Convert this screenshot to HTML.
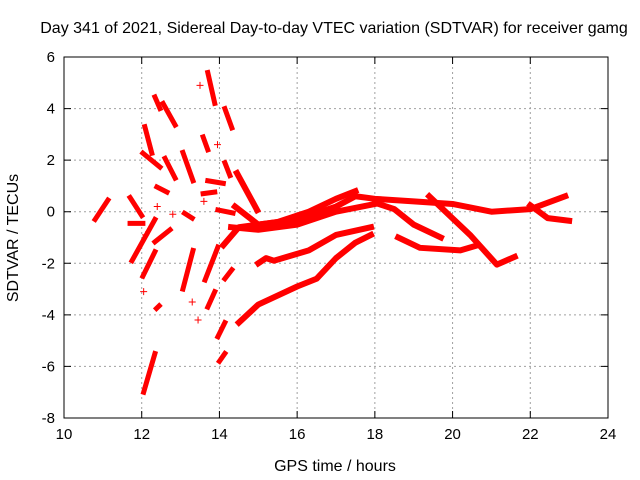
<!DOCTYPE html>
<html><head><meta charset="utf-8"><style>
body{margin:0;background:#fff}
svg{display:block;font-family:"Liberation Sans",sans-serif}
</style></head><body>
<svg id="chart" width="640" height="480" viewBox="0 0 640 480">
<text x="334" y="33" font-size="16" text-anchor="middle">Day 341 of 2021, Sidereal Day-to-day VTEC variation (SDTVAR) for receiver gamg</text>
<text x="335" y="471" font-size="16" text-anchor="middle">GPS time / hours</text>
<text transform="translate(18,238) rotate(-90)" font-size="16" text-anchor="middle">SDTVAR / TECUs</text>
<g id="grid"></g><g id="marks"></g><g id="axes"></g>
</svg>
<script>
const xTicks=[10,12,14,16,18,20,22,24];
const yTicks=[-8,-6,-4,-2,0,2,4,6];
const longTracks=[
[[14.4,0.2],[15,-0.5],[16,-0.3],[17,0.2],[17.5,0.6],[18,0.5],[19,0.4],[20,0.3],[21,0],[22,0.1],[22.9,0.6]],
[[14.3,-0.6],[15,-0.7],[16,-0.5],[17,0],[18,0.3]],
[[14.1,-1.3],[14.5,-0.6],[15.5,-0.4],[16.3,0],[17,0.5],[17.5,0.8]],
[[15.0,-2.0],[15.2,-1.8],[15.4,-1.9],[16.3,-1.5],[17,-0.9],[17.9,-0.6]],
[[14.5,-4.3],[15,-3.6],[16,-2.9],[16.5,-2.6],[17,-1.8],[17.5,-1.2],[17.9,-0.9]],
[[18.1,0.3],[18.5,0.1],[19,-0.5],[19.7,-1.0]],
[[18.6,-1.0],[19.16,-1.4],[20.2,-1.5],[20.65,-1.3]],
[[19.4,0.6],[20.45,-0.9],[21.14,-2.05],[21.6,-1.75]],
[[22,0.25],[22.45,-0.25],[23,-0.35]],
[[14.45,1.5],[14.97,0.06]]
];
const shortTracks=[
[[10.8,-0.3],[11.13,0.45]],[[11.7,0.55],[12.0,-0.15]],[[11.7,-0.45],[12.03,-0.45]],
[[11.75,-1.9],[12.34,-0.3]],[[12.03,-2.5],[12.34,-1.55]],[[12.08,3.3],[12.26,2.27]],
[[12.03,2.27],[12.47,1.73]],[[12.34,4.45],[12.47,4.0]],[[12.55,4.2],[12.86,3.36]],
[[12.6,2.07],[12.86,1.3]],[[12.39,0.96],[12.65,0.76]],[[12.34,-1.17],[12.73,-0.7]],
[[12.05,-7.0],[12.34,-5.5]],[[12.38,-3.75],[12.45,-3.65]],[[13.06,2.3],[13.32,1.2]],
[[13.1,-0.06],[13.3,-0.25]],[[13.06,-3.0],[13.32,-1.5]],[[13.58,2.9],[13.7,2.4]],
[[13.7,5.4],[13.88,4.2]],[[14.14,4.0],[14.32,3.25]],[[13.63,-2.65],[13.96,-1.37]],
[[13.7,-3.7],[13.88,-3.1]],[[13.58,0.7],[13.88,0.76]],[[13.7,1.2],[14.1,1.1]],
[[13.96,0.07],[14.35,-0.05]],[[13.96,-4.85],[14.14,-4.3]],[[14.0,-5.8],[14.14,-5.5]],
[[14.14,-2.6],[14.32,-2.25]],[[14.14,1.9],[14.27,1.4]]
];
const singles=[[12.05,-3.1],[13.5,4.9],[13.95,2.6],[12.8,-0.1],[13.45,-4.2],[13.3,-3.5],[12.1,-0.9],[13.6,0.4],[12.4,0.2]];
const L=64,R=608,T=57,B=418;
const xs=h=>L+(h-10)/14*(R-L);
const ys=v=>T+(6-v)/14*(B-T);
const NS="http://www.w3.org/2000/svg";
const grid=document.getElementById('grid'),marks=document.getElementById('marks'),axes=document.getElementById('axes');
function mk(tag,attrs,parent){const e=document.createElementNS(NS,tag);for(const k in attrs)e.setAttribute(k,attrs[k]);parent.appendChild(e);return e;}
xTicks.forEach(t=>{
 if(t>10&&t<24){const g=mk('line',{x1:xs(t),x2:xs(t),y1:T,y2:B,stroke:'#a0a0a0','stroke-dasharray':'2,3'},grid);
 
 }
 const a=mk('path',{d:`M${xs(t)},${B}v-7M${xs(t)},${T}v7`,stroke:'#000'},axes);
 
 
 const tx=mk('text',{x:xs(t),y:B+21,'font-size':15,'text-anchor':'middle'},axes);tx.textContent=t;
 
 
});
yTicks.forEach(t=>{
 if(t>-8&&t<6){const g=mk('line',{x1:L,x2:R,y1:ys(t),y2:ys(t),stroke:'#a0a0a0','stroke-dasharray':'2,3'},grid);
 
 }
 const a=mk('path',{d:`M${L},${ys(t)}h7M${R},${ys(t)}h-7`,stroke:'#000'},axes);
 
 
 const tx=mk('text',{x:L-9,y:ys(t)+5,'font-size':15,'text-anchor':'end'},axes);tx.textContent=t;
 
 
});
const fr=mk('rect',{x:L,y:T,width:R-L,height:B-T,fill:'none',stroke:'#000'},axes);


function track(pts,w){
 const p=mk('polyline',{points:pts.map(q=>xs(q[0])+','+ys(q[1])).join(' '),fill:'none',stroke:'#f00','stroke-width':w,'stroke-linejoin':'round','stroke-linecap':'square'},marks);
 
 
}
longTracks.forEach(t=>track(t,6));
shortTracks.forEach(t=>track(t,5));
singles.forEach(s=>{
 const p=mk('path',{d:`M${xs(s[0])-3.5},${ys(s[1])}h7M${xs(s[0])},${ys(s[1])-3.5}v7`,stroke:'#f00','stroke-width':1},marks);
 
 
});
</script>
</body></html>
